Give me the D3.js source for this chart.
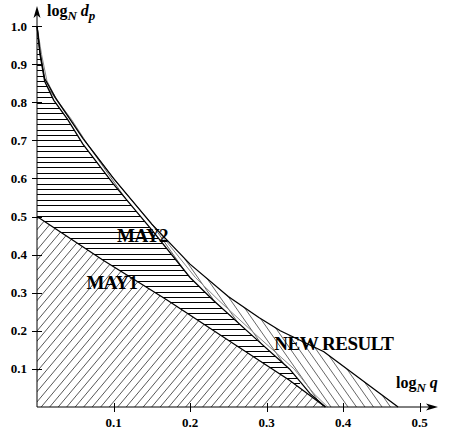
<!DOCTYPE html>
<html lang="en">
<head>
<meta charset="utf-8">
<script src="https://d3js.org/d3.v7.min.js"></script>
<style>
body { margin: 0; background: #fff; }
text { font-family: "Liberation Serif", "Times New Roman", serif; }
</style>
</head>
<body>
<script>
// data
var xTicks = [0.1, 0.2, 0.3, 0.4, 0.5];
var yTicks = [0.1, 0.2, 0.3, 0.4, 0.5, 0.6, 0.7, 0.8, 0.9, 1.0];

// region boundaries, [log_N q, log_N d_p]
var may1Edge = [[0, 0.5], [0.086, 0.386], [0.17, 0.281], [0.26, 0.162], [0.33, 0.07], [0.377, 0]];
var may2Edge = [[0, 1], [0.004, 0.925], [0.01, 0.855], [0.022, 0.805], [0.04, 0.755], [0.06, 0.69],
                [0.1, 0.585], [0.15, 0.465], [0.2, 0.34], [0.23, 0.281], [0.28, 0.19], [0.33, 0.1],
                [0.357, 0.035], [0.377, 0]];
var grayEdge = [[0, 1], [0.006, 0.925], [0.013, 0.856], [0.026, 0.806], [0.045, 0.755], [0.066, 0.69],
                [0.106, 0.585], [0.157, 0.465], [0.207, 0.34], [0.237, 0.281], [0.286, 0.19], [0.336, 0.1],
                [0.362, 0.035], [0.38, 0]];
var newEdge = [[0, 1], [0.004, 0.93], [0.01, 0.862], [0.024, 0.812], [0.04, 0.765], [0.06, 0.705],
               [0.1, 0.6], [0.15, 0.48], [0.2, 0.375], [0.25, 0.29], [0.29, 0.235], [0.318, 0.2],
               [0.375, 0.145], [0.472, 0]];

var labels = [
    { text: "MAY2", x: 0.138, y: 0.432 },
    { text: "MAY1", x: 0.098, y: 0.31 },
    { text: "NEW RESULT", x: 0.388, y: 0.15 }
];

// config
var width = 454, height = 433;
var x0 = 37, y0 = 407;

var xScale = d3.scaleLinear().domain([0, 0.5]).range([x0, 419.5]);
var yScale = d3.scaleLinear().domain([0, 1]).range([y0, 26]);

var svg = d3.select("body").append("svg")
    .attr("width", width)
    .attr("height", height);

var line = d3.line()
    .x(function (d) { return xScale(d[0]); })
    .y(function (d) { return yScale(d[1]); });

// region polygons
var may1Poly = [[0, 0]].concat(may1Edge);
var may2Poly = may2Edge.concat(may1Edge.slice().reverse());
var newPoly = newEdge.concat([[0.377, 0]], may2Edge.slice().reverse());

var defs = svg.append("defs");
function addClip(id, poly) {
    defs.append("clipPath").attr("id", id)
        .append("path").attr("d", line(poly) + "Z");
}
addClip("clip-may1", may1Poly);
addClip("clip-may2", may2Poly);
addClip("clip-new", newPoly);

// hatch lines
var gMay1 = svg.append("g").attr("clip-path", "url(#clip-may1)");
gMay1.selectAll("line").data(d3.range(-40, 50)).enter().append("line")
    .attr("x1", function (k) { return x0 + k * 8.5; })
    .attr("y1", y0 + 5)
    .attr("x2", function (k) { return x0 + k * 8.5 + 420 / Math.tan(50 * Math.PI / 180); })
    .attr("y2", y0 + 5 - 420)
    .attr("stroke", "#444")
    .attr("stroke-width", 0.9);

var gMay2 = svg.append("g").attr("clip-path", "url(#clip-may2)");
gMay2.selectAll("line").data(d3.range(0, 75)).enter().append("line")
    .attr("x1", x0)
    .attr("x2", 300)
    .attr("y1", function (k) { return Math.round(y0 - 2 - k * 5.4) + 0.5; })
    .attr("y2", function (k) { return Math.round(y0 - 2 - k * 5.4) + 0.5; })
    .attr("stroke", "#000")
    .attr("stroke-width", 1);

var gNew = svg.append("g").attr("clip-path", "url(#clip-new)");
gNew.selectAll("line").data(d3.range(-10, 90)).enter().append("line")
    .attr("x1", function (k) { return x0 + k * 8.5; })
    .attr("y1", y0 + 5)
    .attr("x2", function (k) { return x0 + k * 8.5 - 420 / Math.tan(55 * Math.PI / 180); })
    .attr("y2", y0 + 5 - 420)
    .attr("stroke", "#555")
    .attr("stroke-width", 0.9);

// boundaries
svg.append("path").attr("d", line(grayEdge))
    .attr("fill", "none").attr("stroke", "#888").attr("stroke-width", 1);
[may1Edge, may2Edge, newEdge].forEach(function (e) {
    svg.append("path").attr("d", line(e))
        .attr("fill", "none").attr("stroke", "#000").attr("stroke-width", 1.3);
});

// axes
svg.append("line").attr("x1", x0).attr("y1", y0).attr("x2", 430).attr("y2", y0)
    .attr("stroke", "#000").attr("stroke-width", 1);
svg.append("line").attr("x1", x0).attr("y1", y0).attr("x2", x0).attr("y2", 14)
    .attr("stroke", "#000").attr("stroke-width", 1);
svg.append("path").attr("d", "M438," + y0 + " L426," + (y0 - 3.5) + " L429," + y0 + " L426," + (y0 + 3.5) + "Z")
    .attr("fill", "#000");
svg.append("path").attr("d", "M" + x0 + ",6 L" + (x0 - 3.5) + ",18 L" + x0 + ",15 L" + (x0 + 3.5) + ",18Z")
    .attr("fill", "#000");

svg.selectAll(".xtick").data(xTicks).enter().append("line")
    .attr("x1", function (d) { return Math.round(xScale(d)) + 0.5; })
    .attr("x2", function (d) { return Math.round(xScale(d)) + 0.5; })
    .attr("y1", y0 - 4).attr("y2", y0 + 5)
    .attr("stroke", "#000");
svg.selectAll(".xlab").data(xTicks).enter().append("text")
    .attr("x", function (d) { return xScale(d); })
    .attr("y", 427)
    .attr("text-anchor", "middle")
    .attr("font-size", 13).attr("font-weight", "bold")
    .text(function (d) { return d.toFixed(1); });

svg.selectAll(".ytick").data(yTicks).enter().append("line")
    .attr("x1", x0 - 5).attr("x2", x0 + 5)
    .attr("y1", function (d) { return Math.round(yScale(d)) + 0.5; })
    .attr("y2", function (d) { return Math.round(yScale(d)) + 0.5; })
    .attr("stroke", "#000");
svg.selectAll(".ylab").data(yTicks).enter().append("text")
    .attr("x", 27)
    .attr("y", function (d) { return yScale(d) + 4.5; })
    .attr("text-anchor", "end")
    .attr("font-size", 13).attr("font-weight", "bold")
    .text(function (d) { return d.toFixed(1); });

// region labels
svg.selectAll(".lab").data(labels).enter().append("text")
    .attr("x", function (d) { return xScale(d.x); })
    .attr("y", function (d) { return yScale(d.y); })
    .attr("text-anchor", "middle")
    .attr("font-size", 19).attr("font-weight", "bold")
    .attr("letter-spacing", -0.5)
    .text(function (d) { return d.text; });

// axis titles
function axisTitle(x, y, v) {
    var t = svg.append("text").attr("x", x).attr("y", y)
        .attr("font-size", 16).attr("font-weight", "bold");
    t.append("tspan").text("log");
    t.append("tspan").attr("font-style", "italic").attr("font-size", 13)
        .attr("dy", 4).text("N");
    t.append("tspan").attr("dy", -4).text("\u00a0");
    if (v === "d") {
        t.append("tspan").attr("font-style", "italic").text("d");
        t.append("tspan").attr("font-style", "italic").attr("font-size", 13)
            .attr("dy", 4).text("p");
    } else {
        t.append("tspan").attr("font-style", "italic").text("q");
    }
}
axisTitle(47, 16, "d");
axisTitle(396, 388, "q");
</script>
</body>
</html>
